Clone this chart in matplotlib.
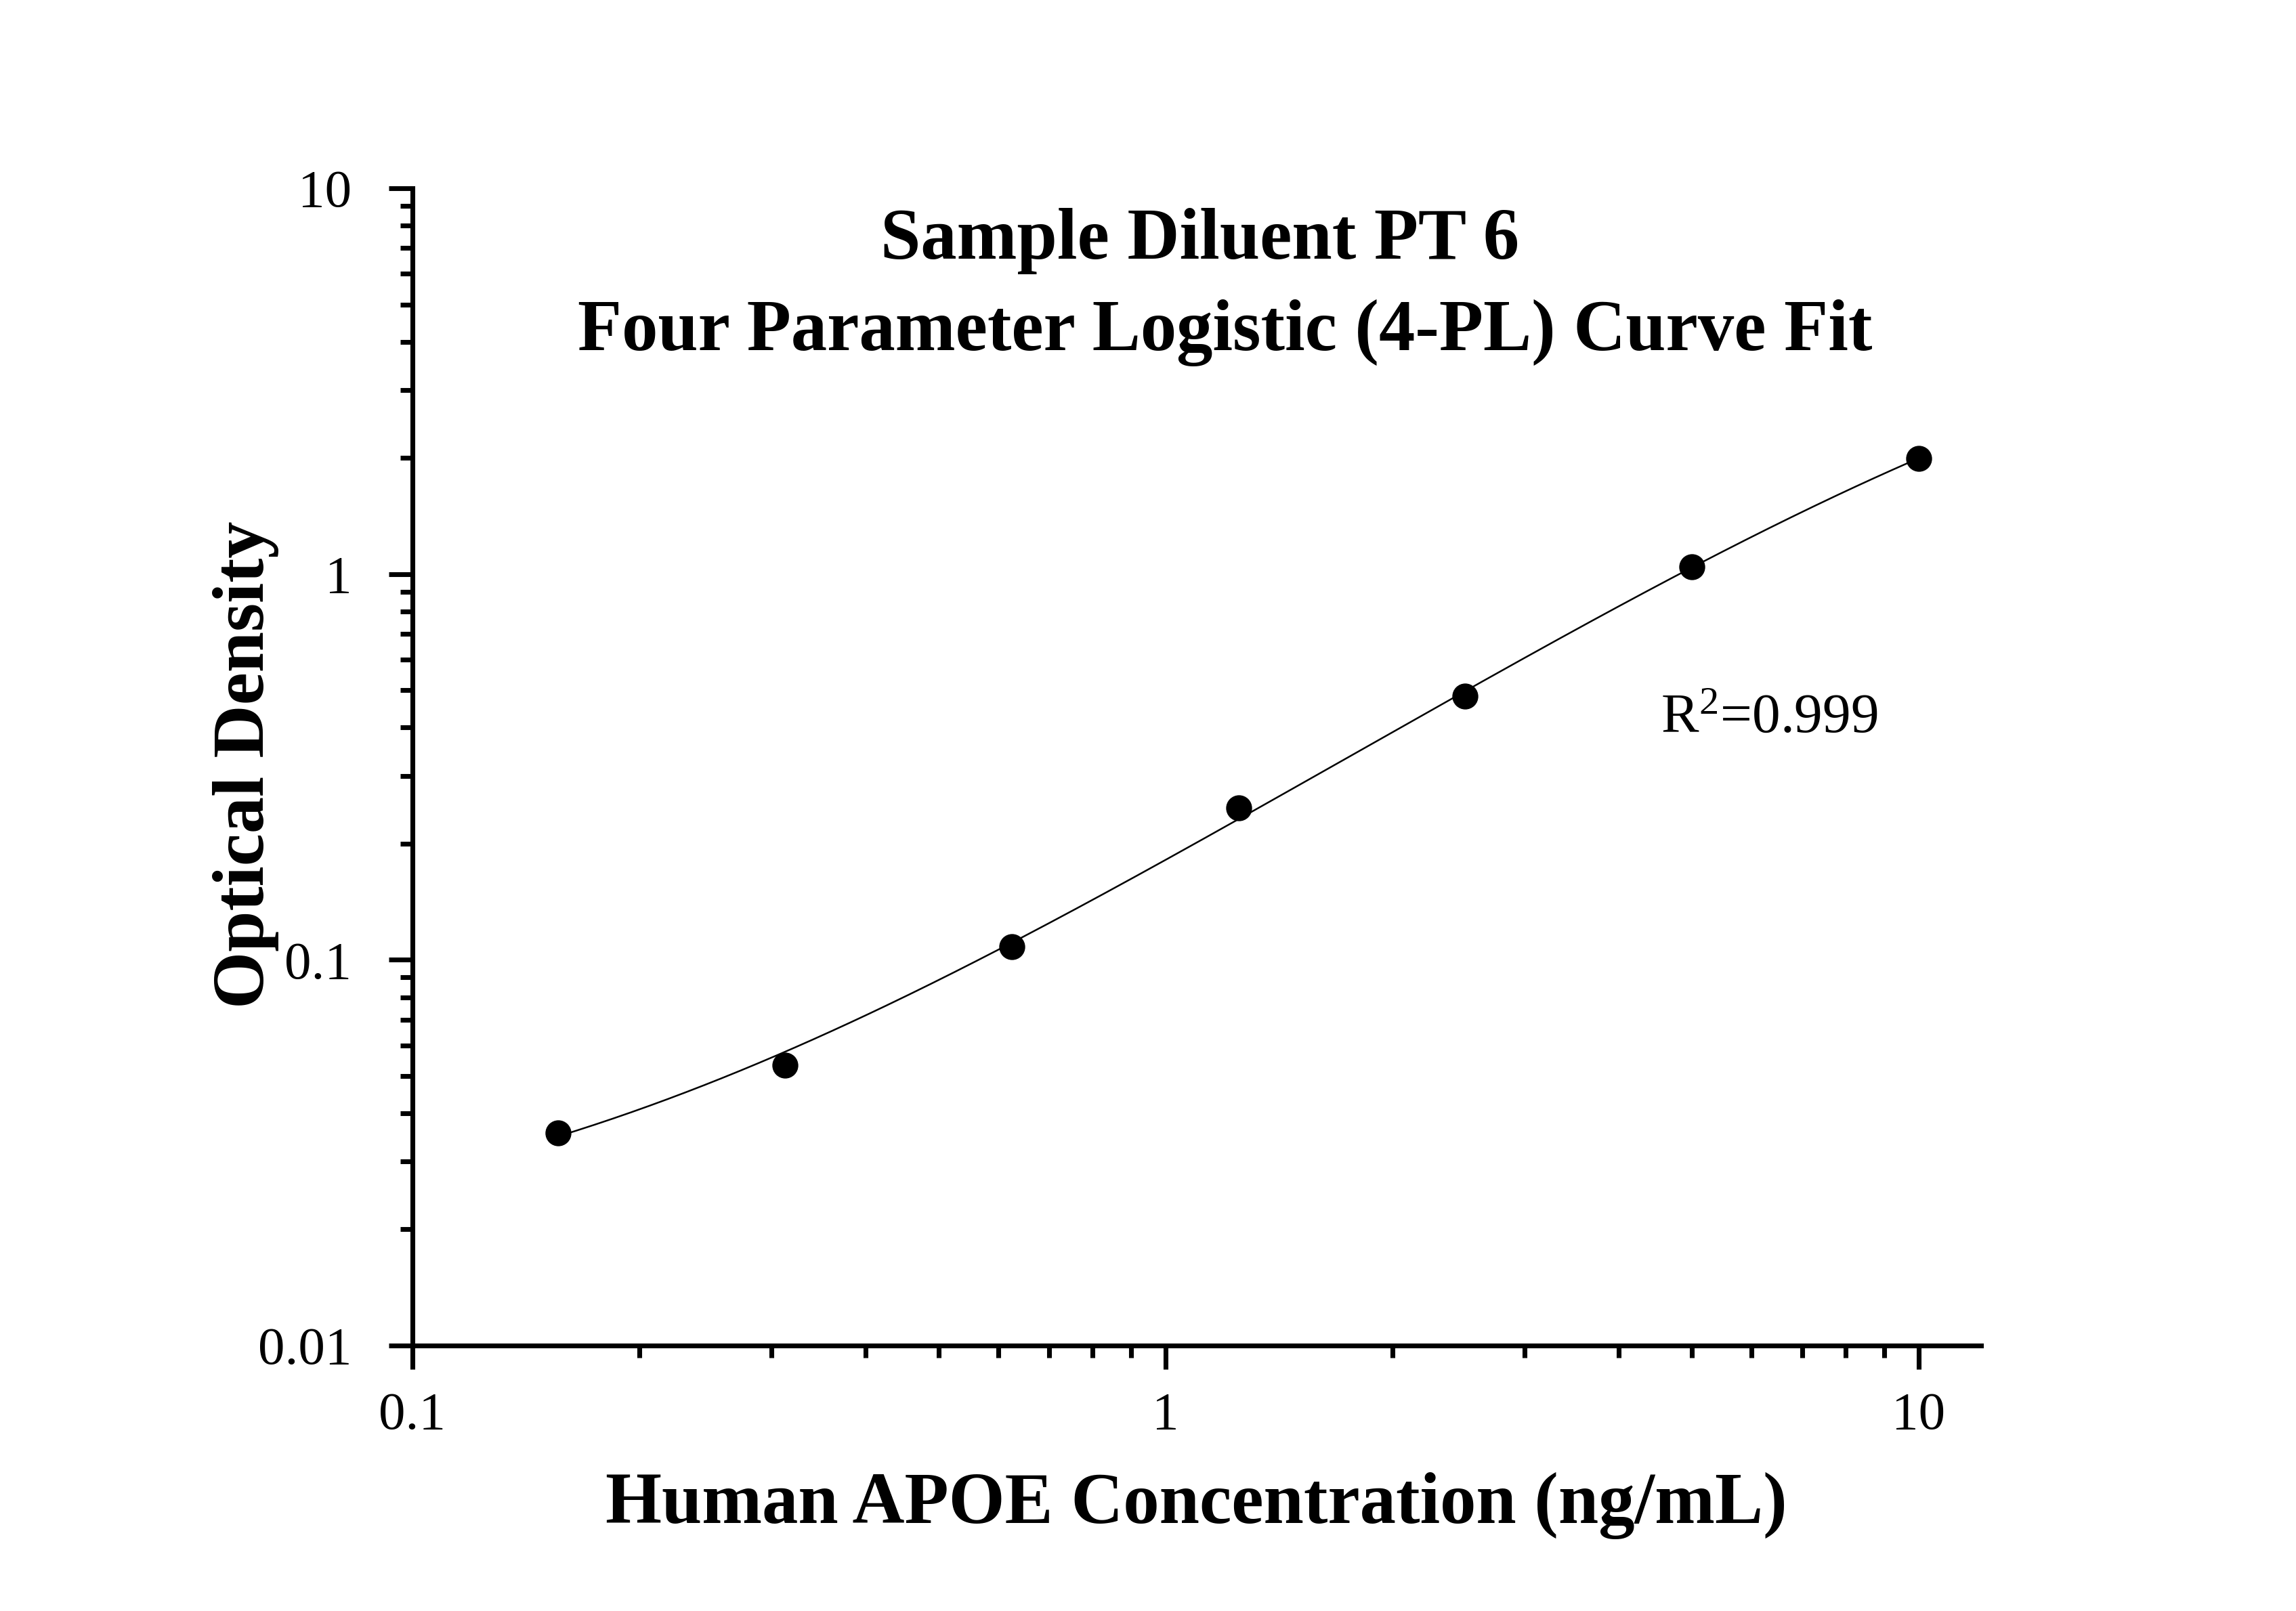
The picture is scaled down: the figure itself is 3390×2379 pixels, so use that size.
import numpy as np
import matplotlib
matplotlib.use('Agg')
import matplotlib.pyplot as plt
from matplotlib.ticker import LogLocator, FuncFormatter, NullFormatter

# standard curve: concentration (ng/mL) vs optical density
conc = np.array([0.15625, 0.3125, 0.625, 1.25, 2.5, 5.0, 10.0])
od = np.array([0.0356, 0.0532, 0.108, 0.248, 0.483, 1.045, 1.995])

title_lines = ['Sample Diluent PT 6', 'Four Parameter Logistic (4-PL) Curve Fit']
x_label = 'Human APOE Concentration (ng/mL)'
y_label = 'Optical Density'
r2_text = r'R$^{2}$=0.999'


def fourpl(x, a, b, c, d):
    return d + (a - d) / (1.0 + (x / c) ** b)


def fit_fourpl(x, y, p0):
    """ small Levenberg-Marquardt fit, numpy only """
    p = np.array(p0, dtype=float)
    lam = 1e-3
    cost = np.sum((fourpl(x, *p) - y) ** 2)
    for _ in range(2000):
        r = fourpl(x, *p) - y
        J = np.zeros((len(x), 4))
        for k in range(4):
            dp = np.zeros(4)
            dp[k] = 1e-6 * max(abs(p[k]), 1e-3)
            J[:, k] = (fourpl(x, *(p + dp)) - r - y) / dp[k]
        H = J.T @ J
        g = J.T @ r
        try:
            step = np.linalg.solve(H + lam * np.diag(np.diag(H) + 1e-12), -g)
        except np.linalg.LinAlgError:
            lam *= 10
            continue
        pn = p + step
        if pn[1] <= 0 or pn[2] <= 0 or not np.all(np.isfinite(pn)):
            lam *= 10
            continue
        cn = np.sum((fourpl(x, *pn) - y) ** 2)
        if cn < cost:
            p, cost = pn, cn
            lam = max(lam / 3, 1e-12)
        else:
            lam *= 5
        if lam > 1e12:
            break
    return p


params = fit_fourpl(conc, od, [0.02, 1.0, 10.0, 10.0])
print('4PL params', params)

plt.rcParams['font.family'] = ['Liberation Serif', 'DejaVu Serif']
plt.rcParams['mathtext.fontset'] = 'custom'
plt.rcParams['mathtext.rm'] = 'Liberation Serif'
plt.rcParams['mathtext.it'] = 'Liberation Serif'

fig = plt.figure(figsize=(11.3, 7.93), dpi=300)
ax = fig.add_axes([0.1796, 0.1648, 0.8628 - 0.1796, 0.8831 - 0.1648])

xs = np.logspace(np.log10(conc.min()), np.log10(conc.max()), 300)
ax.plot(xs, fourpl(xs, *params), color='black', lw=0.6)
ax.plot(conc, od, 'o', color='black', ms=8.2, zorder=3)

ax.set_xscale('log')
ax.set_yscale('log')
ax.set_xlim(0.1, 12.1)
ax.set_ylim(0.01, 10)

for s in ['top', 'right']:
    ax.spines[s].set_visible(False)
for s in ['left', 'bottom']:
    ax.spines[s].set_linewidth(1.7)

fmt = FuncFormatter(lambda v, pos: '%g' % v)
for axis in [ax.xaxis, ax.yaxis]:
    axis.set_major_locator(LogLocator(base=10))
    axis.set_minor_locator(LogLocator(base=10, subs=np.arange(2, 10)))
    axis.set_major_formatter(fmt)
    axis.set_minor_formatter(NullFormatter())

ax.tick_params(which='major', direction='out', length=8.5, width=1.7, labelsize=19)
ax.tick_params(which='minor', direction='out', length=4.3, width=1.7)
ax.tick_params(axis='x', which='major', pad=8)
ax.tick_params(axis='y', which='major', pad=13)

fig.text(0.5225, 0.8504, title_lines[0], ha='center', va='center', fontsize=25.6, fontweight='bold')
fig.text(0.5334, 0.7936, title_lines[1], ha='center', va='center', fontsize=25.6, fontweight='bold')
fig.text(0.521, 0.0655, x_label, ha='center', va='center', fontsize=25.6, fontweight='bold')
fig.text(0.107, 0.5255, y_label, ha='center', va='center', rotation=90, fontsize=26, fontweight='bold')
fig.text(0.7234, 0.5456, r2_text, ha='left', va='baseline', fontsize=20)

fig.savefig('out.png', dpi=300, facecolor='white')
